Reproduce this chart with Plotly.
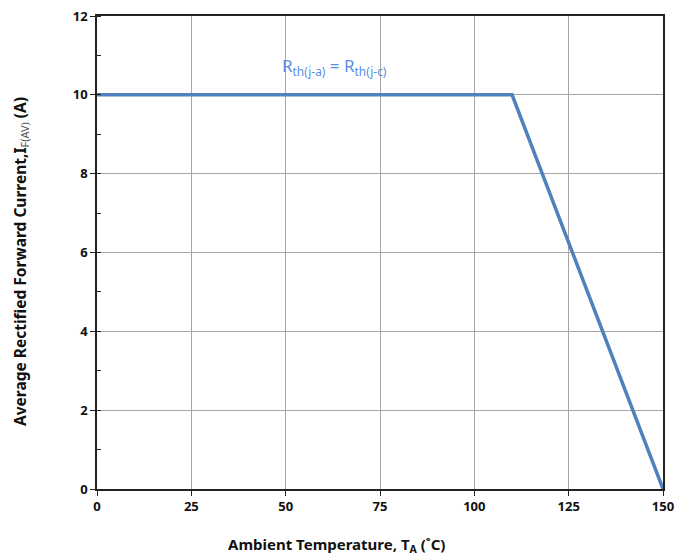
import plotly.graph_objects as go

temp_c = [0, 110, 150]
current_a = [10, 10, 0]
x_ticks = [0, 25, 50, 75, 100, 125, 150]
y_ticks = [0, 2, 4, 6, 8, 10, 12]

FONT = "Noto Sans"

fig = go.Figure()
fig.add_trace(go.Scatter(
    x=temp_c, y=current_a, mode="lines",
    line=dict(color="#4f81bd", width=3.5),
    showlegend=False, hoverinfo="skip"))

fig.add_annotation(
    x=63, y=10.73, xref="x", yref="y", showarrow=False,
    text="R<sub>th(j-a)</sub> = R<sub>th(j-c)</sub>",
    font=dict(family=FONT, size=17, color="#5b8ce6"))

# axis titles (placed as annotations to match the reference position)
fig.add_annotation(
    x=0.0, y=-0.12, xref="paper", yref="paper", showarrow=False,
    xanchor="center", yanchor="middle",
    text="<b>Ambient Temperature, T<sub>A</sub> (˚C)</b>",
    font=dict(family=FONT, size=15, color="#111111"))
fig.add_annotation(
    x=0.0, y=0.52, xref="paper", yref="paper", showarrow=False,
    xanchor="center", yanchor="middle", textangle=-90,
    text="<b>Average Rectified Forward Current,I</b><sub><span style='color:#555'>F(AV)</span></sub><b> (A)</b>",
    font=dict(family=FONT, size=15.5, color="#111111"))

axis_common = dict(
    showline=True, linecolor="#222222", linewidth=1.5, mirror=True,
    showgrid=True, gridcolor="#a6a6a6", gridwidth=1,
    zeroline=False, ticks="outside", ticklen=5, tickcolor="#222222",
    ticklabeloverflow="allow",
    tickfont=dict(family=FONT, size=13, color="#111111", weight="bold"),
)

fig.update_xaxes(range=[0, 150], tickvals=x_ticks,
                 ticktext=[str(v) for v in x_ticks], **axis_common)
fig.update_yaxes(range=[0, 12], tickvals=y_ticks,
                 ticktext=[str(v) for v in y_ticks],
                 minor=dict(dtick=1, ticks="inside", ticklen=4,
                            tickcolor="#222222", showgrid=False),
                 **axis_common)

PLOT_L, PLOT_R, PLOT_T, PLOT_B = 89, 31, 8, 69
W, H = 686, 550
fig.update_layout(
    width=W, height=H,
    margin=dict(l=PLOT_L, r=PLOT_R, t=PLOT_T, b=PLOT_B, autoexpand=False),
    plot_bgcolor="white", paper_bgcolor="white",
)
# reposition title annotations in paper coords
pw = W - PLOT_L - PLOT_R
ph = H - PLOT_T - PLOT_B
fig.layout.annotations[1].x = (336 - 8 - PLOT_L) / pw
fig.layout.annotations[1].y = -(545 - 8 - (H - PLOT_B)) / ph
fig.layout.annotations[2].x = -(PLOT_L - (20 - 8)) / pw
fig.layout.annotations[2].y = 1 - (262 - 8 - PLOT_T) / ph

fig.write_html("out.html")
